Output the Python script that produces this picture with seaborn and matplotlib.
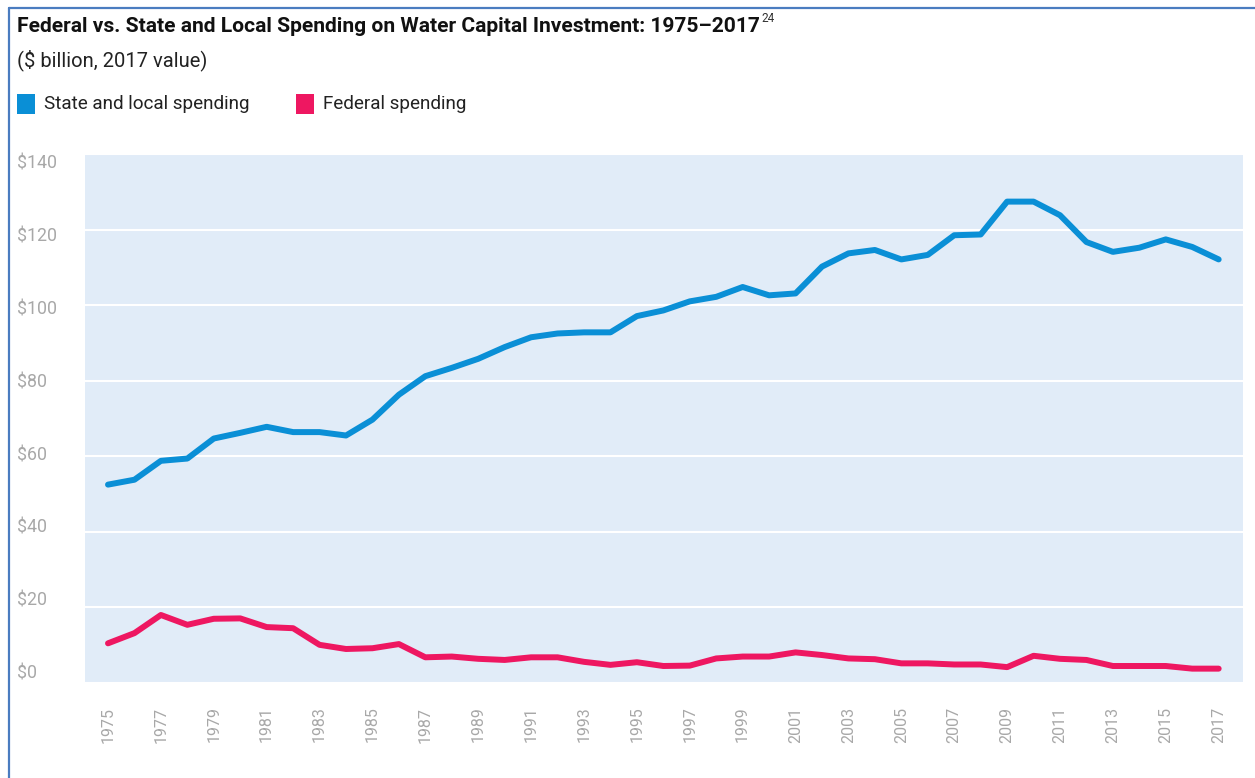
import pandas as pd
import numpy as np
import matplotlib
matplotlib.use('Agg')
import matplotlib.pyplot as plt
import matplotlib.transforms as mtransforms
import seaborn as sns
from matplotlib.patches import Rectangle
from matplotlib.lines import Line2D

# spending in $ billion (2017 value)
years = list(range(1975, 2018))
state_local = [52.5, 53.8, 58.8, 59.4, 64.7, 66.2, 67.8, 66.4, 66.4, 65.5,
               69.7, 76.3, 81.2, 83.4, 85.8, 88.9, 91.5, 92.5, 92.8, 92.8,
               97.1, 98.6, 101.0, 102.2, 104.8, 102.6, 103.1, 110.2, 113.7, 114.6,
               112.1, 113.3, 118.5, 118.7, 127.4, 127.4, 123.8, 116.7, 114.1, 115.2,
               117.4, 115.4, 112.1]
federal = [10.5, 13.2, 18.0, 15.4, 17.0, 17.1, 14.8, 14.5, 10.1, 9.0,
           9.2, 10.3, 6.8, 7.0, 6.4, 6.1, 6.8, 6.8, 5.6, 4.8,
           5.5, 4.5, 4.6, 6.5, 7.0, 7.0, 8.1, 7.4, 6.5, 6.3,
           5.2, 5.2, 4.9, 4.9, 4.2, 7.2, 6.4, 6.1, 4.5, 4.5,
           4.5, 3.8, 3.8]
series_names = ['State and local spending', 'Federal spending']
colors = ['#0A8FD6', '#EE1761']
y_ticks = [0, 20, 40, 60, 80, 100, 120, 140]
x_ticks = list(range(1975, 2018, 2))

df = pd.DataFrame({
    'Year': years * 2,
    'Spending': state_local + federal,
    'Series': [series_names[0]] * len(years) + [series_names[1]] * len(years),
})

sns.set_style('white')
plt.rcParams['font.family'] = ['Roboto', 'DejaVu Sans']

W, H = 1255, 778
fig = plt.figure(figsize=(W / 100, H / 100), dpi=100)
ax = fig.add_axes([85 / W, (H - 683) / H, (1243 - 85) / W, (683 - 154) / H])
ax.set_facecolor('#E1ECF8')

sns.lineplot(data=df, x='Year', y='Spending', hue='Series',
             palette=dict(zip(series_names, colors)), linewidth=4.3,
             legend=False, ax=ax)
for ln in ax.lines:
    ln.set_solid_capstyle('round')

ax.set_xlim(1974.13, 2017.92)
ax.set_ylim(0, 140)
ax.set_yticks(y_ticks)
ax.set_yticklabels([f'${v}' for v in y_ticks])
ax.set_xticks(x_ticks)
ax.set_xticklabels([str(v) for v in x_ticks], rotation=90)
ax.set_xlabel('')
ax.set_ylabel('')
ax.grid(axis='y', color='white', linewidth=1.5)
ax.grid(axis='x', visible=False)
ax.set_axisbelow(True)
for s in ax.spines.values():
    s.set_visible(False)
ax.tick_params(axis='both', length=0, colors='#A8A8A8', labelsize=12.8)
ax.tick_params(axis='y', pad=49)
ax.tick_params(axis='x', pad=17, labelsize=11.5)
# y labels in the original sit a little off their gridlines (closer together)
for v, lab in zip(y_ticks, ax.get_yticklabels()):
    lab.set_horizontalalignment('left')
    dy = 11.3 - v / 140 * 18.8
    lab.set_transform(lab.get_transform() + mtransforms.ScaledTranslation(0, dy / 100, fig.dpi_scale_trans))

# title, subtitle
title = fig.text(17 / W, 1 - 26 / H, 'Federal vs. State and Local Spending on Water Capital Investment: 1975\u20132017',
                 fontsize=15.1, fontweight='bold', color='#111111', va='center', ha='left')
fig.canvas.draw()
bb = title.get_window_extent()
fig.text((bb.x1 + 2) / W, 1 - 19 / H, '24', fontsize=8.5, color='#333333', va='center', ha='left')
fig.text(17 / W, 1 - 60 / H, '($ billion, 2017 value)', fontsize=14.5, color='#222222',
         va='center', ha='left')

# legend
for x0, name, c in [(17, series_names[0], colors[0]), (296, series_names[1], colors[1])]:
    fig.add_artist(Rectangle((x0 / W, 1 - 114 / H), 18 / W, 20 / H, transform=fig.transFigure,
                             facecolor=c, edgecolor='none'))
    fig.text((x0 + 27) / W, 1 - 104 / H, name, fontsize=13.6, color='#222222', va='center', ha='left')

# frame
fig.add_artist(Line2D([9 / W, 9 / W], [0, 1 - 8 / H], transform=fig.transFigure, color='#4A7CC0', linewidth=1.6))
fig.add_artist(Line2D([9 / W, 1], [1 - 8 / H, 1 - 8 / H], transform=fig.transFigure, color='#4A7CC0', linewidth=1.6))

fig.savefig('out.png', dpi=100)
